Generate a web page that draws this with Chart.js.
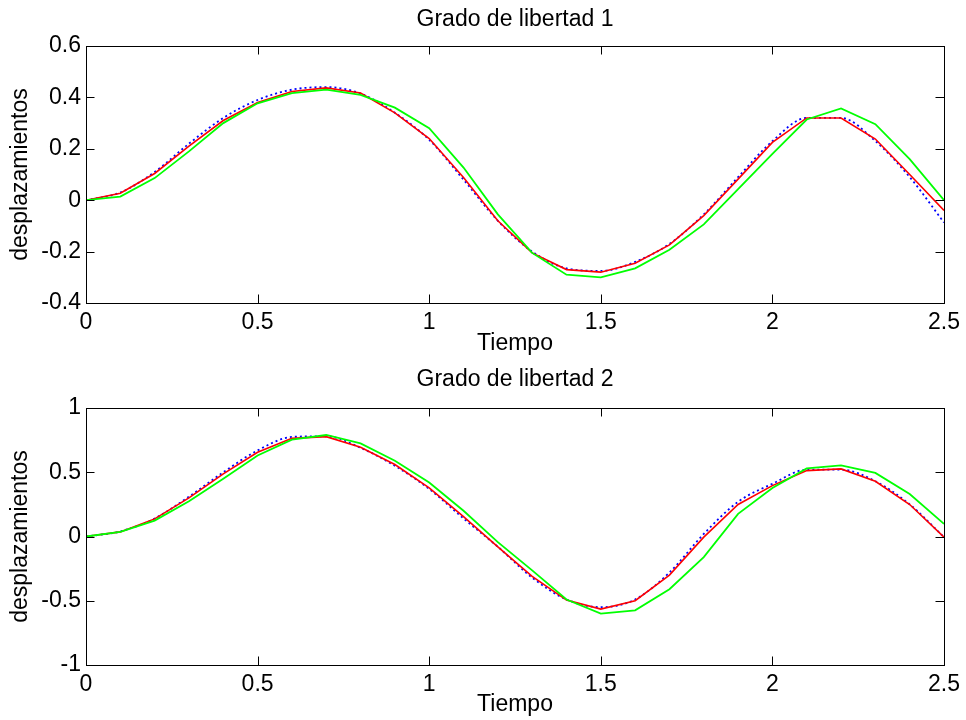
<!DOCTYPE html>
<html>
<head>
<meta charset="utf-8">
<title>Grado de libertad</title>
<script src="https://cdn.jsdelivr.net/npm/chart.js@4.4.1/dist/chart.umd.min.js"></script>
<style>
    html, body { margin: 0; padding: 0; background: #fff; }
    body { width: 966px; height: 720px; position: relative; overflow: hidden; }
    canvas { position: absolute; left: 0; }
    #chart1 { top: 0; }
    #chart2 { top: 360px; }
</style>
</head>
<body>
<canvas id="chart1" width="966" height="360"></canvas>
<canvas id="chart2" width="966" height="360"></canvas>
<script>
// Tiempo (s)
const tiempo = [0, 0.1, 0.2, 0.3, 0.4, 0.5, 0.6, 0.7, 0.8, 0.9, 1.0, 1.1, 1.2,
    1.3, 1.4, 1.5, 1.6, 1.7, 1.8, 1.9, 2.0, 2.1, 2.2, 2.3, 2.4, 2.5];

// Grado de libertad 1
const gdl1Azul = [0, 0.03, 0.11, 0.22, 0.32, 0.39, 0.43, 0.44, 0.415, 0.34, 0.235, 0.08, -0.08,
    -0.2, -0.265, -0.275, -0.24, -0.17, -0.055, 0.09, 0.23, 0.32, 0.32, 0.23, 0.09, -0.087];
const gdl1Rojo = [0, 0.027, 0.104, 0.21, 0.31, 0.38, 0.423, 0.437, 0.417, 0.34, 0.24, 0.088, -0.08,
    -0.205, -0.27, -0.28, -0.245, -0.174, -0.06, 0.082, 0.225, 0.32, 0.32, 0.238, 0.1, -0.04];
const gdl1Verde = [0, 0.014, 0.086, 0.19, 0.3, 0.377, 0.417, 0.43, 0.41, 0.36, 0.28, 0.127, -0.055,
    -0.205, -0.29, -0.3, -0.265, -0.193, -0.094, 0.043, 0.18, 0.314, 0.357, 0.296, 0.16, 0.0];

// Grado de libertad 2
const gdl2Azul = [0, 0.04, 0.14, 0.31, 0.5, 0.67, 0.775, 0.78, 0.69, 0.55, 0.37, 0.14, -0.08,
    -0.32, -0.49, -0.55, -0.49, -0.28, 0.02, 0.27, 0.41, 0.52, 0.52, 0.43, 0.25, -0.005];
const gdl2Rojo = [0, 0.036, 0.137, 0.3, 0.487, 0.655, 0.764, 0.777, 0.694, 0.56, 0.378, 0.155, -0.08,
    -0.31, -0.495, -0.565, -0.5, -0.3, -0.005, 0.249, 0.396, 0.513, 0.526, 0.43, 0.249, -0.005];
const gdl2Verde = [0, 0.036, 0.124, 0.275, 0.45, 0.63, 0.754, 0.79, 0.725, 0.59, 0.42, 0.2, -0.044,
    -0.264, -0.49, -0.6, -0.575, -0.41, -0.16, 0.176, 0.378, 0.53, 0.554, 0.495, 0.33, 0.098];

const FONT = "'Liberation Sans', Arial, sans-serif";

// MATLAB style box with inward tick marks on all four sides
const matlabBox = {
    id: 'matlabBox',
    afterDraw(chart) {
        const {ctx, chartArea: a, scales} = chart;
        const len = 8.5;
        ctx.save();
        ctx.strokeStyle = '#000';
        ctx.lineWidth = 1;
        ctx.beginPath();
        scales.x.ticks.forEach(t => {
            const px = Math.round(scales.x.getPixelForValue(t.value)) + 0.5;
            ctx.moveTo(px, a.bottom);
            ctx.lineTo(px, a.bottom - len);
            ctx.moveTo(px, a.top);
            ctx.lineTo(px, a.top + len);
        });
        scales.y.ticks.forEach(t => {
            const py = Math.round(scales.y.getPixelForValue(t.value)) + 0.5;
            ctx.moveTo(a.left, py);
            ctx.lineTo(a.left + len, py);
            ctx.moveTo(a.right, py);
            ctx.lineTo(a.right - len, py);
        });
        ctx.stroke();
        ctx.strokeRect(Math.round(a.left) + 0.5, Math.round(a.top) + 0.5,
            Math.round(a.right - a.left), Math.round(a.bottom - a.top));
        ctx.restore();
    }
};

// "1" instead of "1.0", like MATLAB
function formatTick(value) {
    return String(Number(value.toFixed(2)));
}

function toPoints(values) {
    return values.map((v, i) => ({x: tiempo[i], y: v}));
}

function createChart(id, titulo, azul, rojo, verde, yMin, yMax, yStep, cfg) {
    const ctx = document.getElementById(id);
    return new Chart(ctx, {
        type: 'line',
        data: {
            datasets: [{
                data: toPoints(verde),
                borderColor: '#00ff00',
                borderWidth: 1.8,
                tension: 0
            }, {
                data: toPoints(rojo),
                borderColor: '#ff0000',
                borderWidth: 1.6,
                tension: 0
            }, {
                data: toPoints(azul),
                borderColor: '#0000ff',
                borderWidth: 1.8,
                borderDash: [2, 3],
                cubicInterpolationMode: 'monotone'
            }]
        },
        options: {
            responsive: false,
            animation: false,
            events: [],
            layout: {
                padding: {left: 0, right: 19, top: 0, bottom: 0}
            },
            elements: {
                point: {radius: 0}
            },
            scales: {
                x: {
                    type: 'linear',
                    min: 0,
                    max: 2.5,
                    grid: {display: false, drawTicks: false},
                    border: {display: false},
                    ticks: {
                        stepSize: 0.5,
                        color: '#000',
                        padding: cfg.xTickPad,
                        maxRotation: 0,
                        font: {family: FONT, size: 23},
                        callback: formatTick
                    },
                    title: {
                        display: true,
                        text: 'Tiempo',
                        color: '#000',
                        padding: {top: 0, bottom: cfg.xTitlePad},
                        font: {family: FONT, size: 23}
                    },
                    afterFit(scale) {
                        scale.height = cfg.xHeight;
                    }
                },
                y: {
                    min: yMin,
                    max: yMax,
                    grid: {display: false, drawTicks: false},
                    border: {display: false},
                    ticks: {
                        stepSize: yStep,
                        color: '#000',
                        padding: 5,
                        font: {family: FONT, size: 23},
                        callback: formatTick
                    },
                    title: {
                        display: true,
                        text: 'desplazamientos',
                        color: '#000',
                        padding: {top: 7, bottom: 0},
                        font: {family: FONT, size: 23}
                    },
                    afterFit(scale) {
                        scale.width = 86;
                    }
                }
            },
            plugins: {
                legend: {display: false},
                tooltip: {enabled: false},
                title: {
                    display: true,
                    text: titulo,
                    color: '#000',
                    fullSize: false,
                    padding: {top: 6.2, bottom: cfg.titlePad},
                    font: {family: FONT, size: 23, weight: 'normal'}
                }
            }
        },
        plugins: [matlabBox]
    });
}

createChart('chart1', 'Grado de libertad 1', gdl1Azul, gdl1Rojo, gdl1Verde, -0.4, 0.6, 0.2,
    {titlePad: 12.2, xHeight: 57, xTickPad: 6, xTitlePad: 2.7});
createChart('chart2', 'Grado de libertad 2', gdl2Azul, gdl2Rojo, gdl2Verde, -1, 1, 0.5,
    {titlePad: 14.2, xHeight: 55, xTickPad: 6, xTitlePad: 1.2});
</script>
</body>
</html>
